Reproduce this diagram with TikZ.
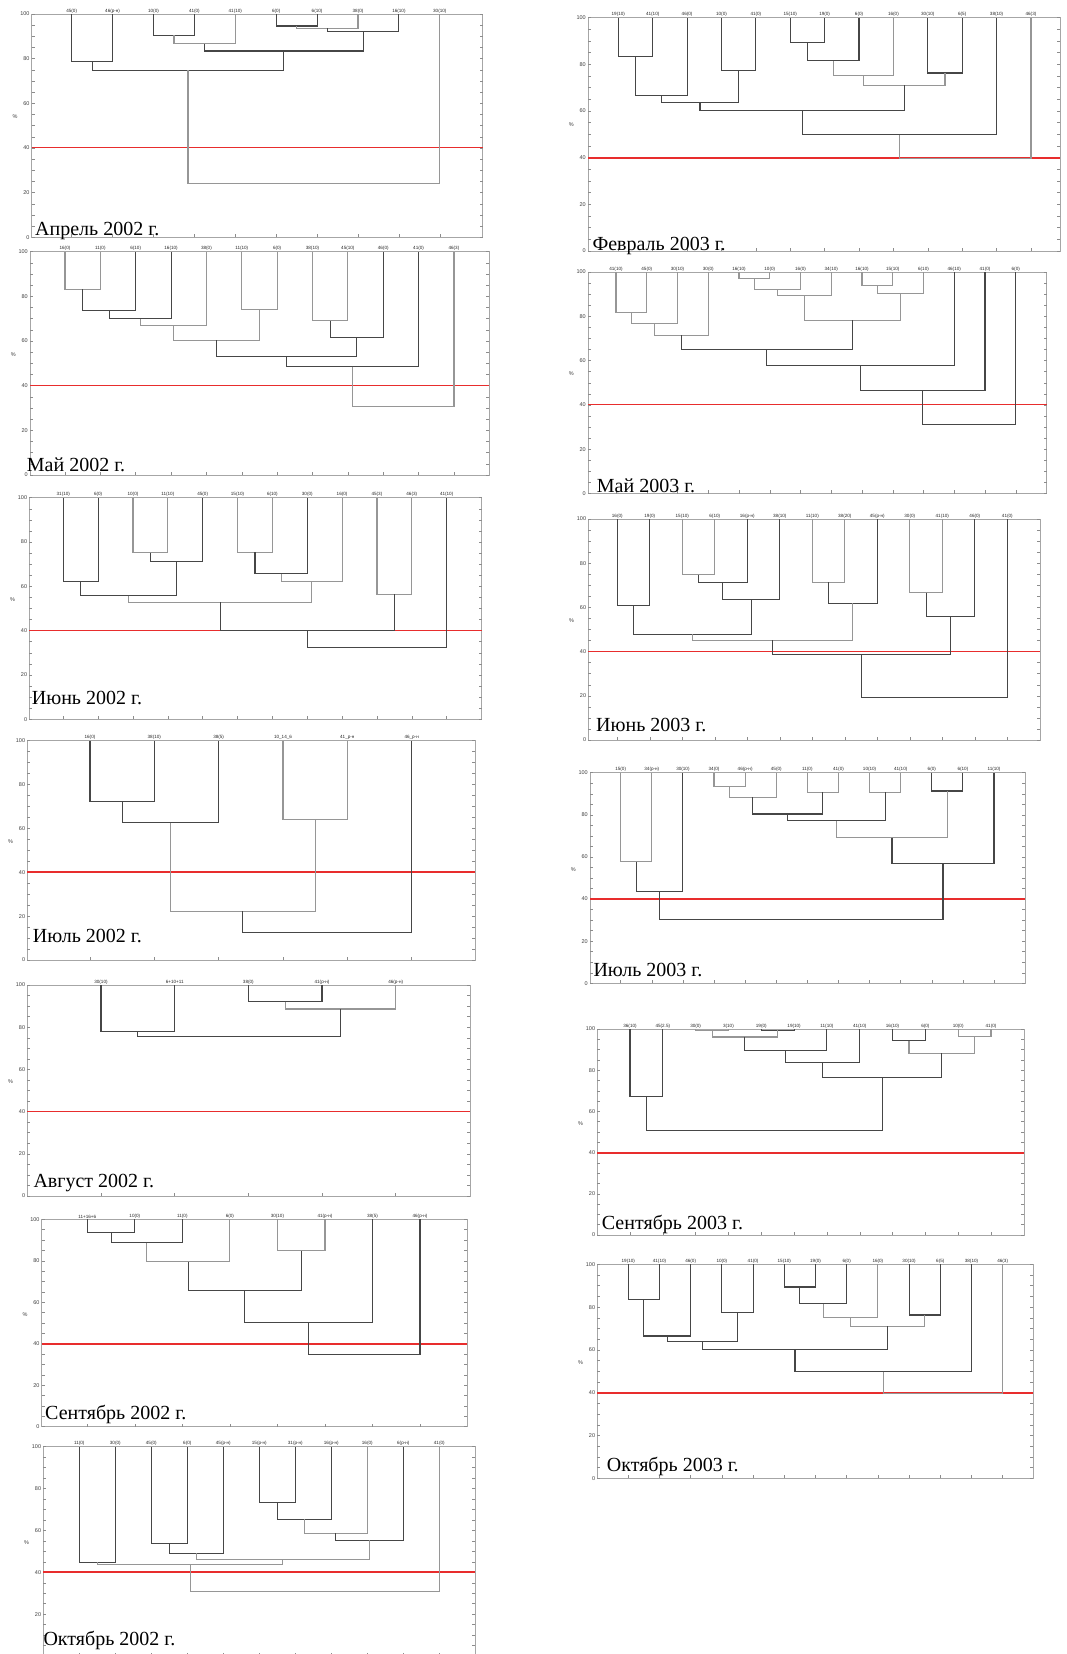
\documentclass[tikz,border=0pt]{standalone}
\usepackage{fontspec}
\setmainfont{Liberation Serif}
\newfontfamily\lsans{Liberation Sans}
\definecolor{dkc}{RGB}{70,70,70}
\definecolor{ltc}{RGB}{150,150,150}
\definecolor{rl}{RGB}{232,45,45}
\tikzset{
  dk/.style={draw=dkc, line width=1.1pt},
  lt/.style={draw=ltc, line width=1.1pt},
  boxl/.style={draw=black!35, line width=0.8pt},
  tk/.style={draw=black!45, line width=0.5pt},
  redl/.style={draw=rl},
  lbl/.style={font=\lsans\fontsize{4.6}{5}\selectfont, anchor=south, inner sep=0.8pt, text=black!85},
  tkl/.style={font=\lsans\fontsize{5.5}{6}\selectfont, anchor=east, inner sep=1pt, text=black!75},
  ttl/.style={font=\fontsize{20}{22}\selectfont, anchor=base west, inner sep=0pt}
}
% leaves: start x, step, list of labels
\newcommand\leaves[3]{%
  \foreach \t [count=\i] in {#3} {%
    \coordinate (L\i) at ({#1+(\i-1)*#2},100);
    \node[lbl] (T\i) at (L\i) {\t};
    \draw[tk] ({#1+(\i-1)*#2},0) -- ++(0,1.5);
  }}
% frame: [red width] X0 X1 {tick labels}
\newcommand\frm[4][1]{%
  \draw[boxl] (#2,0) rectangle (#3,100);
  \foreach \vv in {0,5,...,100} {\draw[tk] (#2,\vv) -- ++(3,0); \draw[tk] (#3,\vv) -- ++(-3,0);}
  \foreach \vv in {#4} {\node[tkl] (Y\vv) at (#2-1,\vv) {\vv};}
  \node[tkl] (pc) at (#2-13,54) {\%};
  \draw[redl, line width=#1pt] (#2,40) -- (#3,40);
}
% merge: [style] a b new height
\newcommand\mg[5][dk]{%
  \coordinate (hh) at (0,#5);
  \draw[#1] (#2) -- (#2 |- hh) -- coordinate[midway] (#4) (#3 |- hh) -- (#3);
}
\newcommand\febtree{%
  \mg{L1}{L2}{a}{83.4}
  \mg{a}{L3}{b}{66.5}
  \mg{L4}{L5}{c}{77.3}
  \mg{b}{c}{d}{63.8}
  \mg{L6}{L7}{e}{89.4}
  \mg{e}{L8}{f}{81.5}
  \mg[lt]{f}{L9}{g}{75.1}
  \mg{L10}{L11}{h}{76.3}
  \mg[lt]{g}{h}{i}{71.0}
  \mg{d}{i}{j}{60.1}
  \mg{j}{L12}{k}{49.8}
  \mg[lt]{k}{L13}{l}{39.6}
}
\begin{document}
\begin{tikzpicture}[x=1pt,y=-1pt]
\fill[white] (0,0) rectangle (1066,1654);
\useasboundingbox (0,0) rectangle (1066,1654);

% ---------- Апрель 2002
\begin{scope}[shift={(0,237.3)},yscale=-2.233]
  \frm[1]{31.7}{482.7}{0,20,...,100}
  \leaves{71.7}{40.9}{45(0),46(р-н),10(0),41(0),41(10),6(0),6(10),38(0),16(10),30(10)}
  \mg{L1}{L2}{a}{78.6}
  \mg{L3}{L4}{b}{90.5}
  \mg[lt]{b}{L5}{c}{86.6}
  \mg{L6}{L7}{d}{94.6}
  \mg[lt]{d}{L8}{e}{93.6}
  \mg{e}{L9}{f}{92.1}
  \mg{c}{f}{g}{83.4}
  \mg{a}{g}{h}{74.8}
  \mg[lt]{h}{L10}{i}{24.2}
\end{scope}

% ---------- Май 2002
\begin{scope}[shift={(0,475)},yscale=-2.233]
  \frm[1.5]{30}{489.3}{0,20,...,100}
  \leaves{65}{35.36}{16(0),11(0),6(10),16(10),38(0),11(10),6(0),38(10),45(10),46(0),41(0),46(3)}
  \mg[lt]{L1}{L2}{a}{83.1}
  \mg{a}{L3}{b}{73.7}
  \mg{b}{L4}{c}{69.9}
  \mg[lt]{c}{L5}{d}{66.9}
  \mg[lt]{L6}{L7}{e}{74.3}
  \mg[lt]{d}{e}{f}{60.4}
  \mg[lt]{L8}{L9}{g}{69.0}
  \mg{g}{L10}{h}{61.5}
  \mg{f}{h}{i}{53.0}
  \mg{i}{L11}{j}{48.5}
  \mg[lt]{j}{L12}{k}{30.6}
\end{scope}

% ---------- Июнь 2002
\begin{scope}[shift={(0,719.3)},yscale=-2.216]
  \frm[1.2]{29.3}{481.7}{0,20,...,100}
  \leaves{63.3}{34.85}{31(10),6(0),10(0),11(10),45(0),15(10),6(10),30(0),16(0),45(3),46(3),41(10)}
  \mg{L1}{L2}{a}{62.1}
  \mg[lt]{L3}{L4}{b}{75.2}
  \mg{b}{L5}{c}{71.4}
  \mg{a}{c}{d}{55.8}
  \mg[lt]{L6}{L7}{e}{75.3}
  \mg{e}{L8}{f}{65.6}
  \mg[lt]{f}{L9}{g}{62.1}
  \mg[lt]{d}{g}{h}{52.8}
  \mg[lt]{L10}{L11}{i}{56.4}
  \mg{h}{i}{j}{40.0}
  \mg{j}{L12}{k}{32.3}
\end{scope}

% ---------- Июль 2002
\begin{scope}[shift={(0,960)},yscale=-2.193]
  \frm[2]{27.3}{475}{0,20,...,100}
  \leaves{90}{64.33}{16(0),38(10),38(5),10\_14\_6,41\_р-н,46\_р-н}
  \mg{L1}{L2}{a}{72.2}
  \mg{a}{L3}{b}{62.6}
  \mg[lt]{L4}{L5}{c}{64.1}
  \mg[lt]{b}{c}{d}{22.3}
  \mg{d}{L6}{e}{12.5}
\end{scope}

% ---------- Август 2002
\begin{scope}[shift={(0,1196)},yscale=-2.11]
  \frm[1]{27.3}{470}{0,20,...,100}
  \leaves{101}{73.67}{30(10),6+10+11,38(0),41(р-н),46(р-н)}
  \mg{L1}{L2}{a}{77.9}
  \mg{L3}{L4}{b}{92.1}
  \mg[lt]{b}{L5}{c}{88.6}
  \mg{a}{c}{d}{75.8}
\end{scope}

% ---------- Сентябрь 2002
\begin{scope}[shift={(0,1426.7)},yscale=-2.074]
  \frm[2]{41.7}{467.3}{0,20,...,100}
  \leaves{87.3}{47.53}{11+16+6,10(0),11(0),6(0),30(10),41(р-н),38(5),46(р-н)}
  \mg{L1}{L2}{a}{93.7}
  \mg{a}{L3}{b}{88.7}
  \mg[lt]{b}{L4}{c}{79.6}
  \mg[lt]{L5}{L6}{d}{84.9}
  \mg{c}{d}{e}{65.6}
  \mg{e}{L7}{f}{50.2}
  \mg{f}{L8}{g}{34.6}
\end{scope}

% ---------- Октябрь 2002
\begin{scope}[shift={(0,1656)},yscale=-2.093]
  \frm[2]{43.3}{475}{20,40,...,100}
  \leaves{79.3}{36}{11(0),30(0),45(0),6(0),45(р-н),15(р-н),31(р-н),16(р-н),16(0),6(р-н),41(0)}
  \mg{L1}{L2}{a}{44.7}
  \mg{L3}{L4}{b}{53.8}
  \mg{b}{L5}{c}{49.0}
  \mg{L6}{L7}{d}{73.2}
  \mg{d}{L8}{e}{65.4}
  \mg[lt]{e}{L9}{f}{58.6}
  \mg{f}{L10}{g}{55.4}
  \mg[lt]{c}{g}{h}{45.9}
  \mg[lt]{a}{h}{i}{43.8}
  \mg[lt]{i}{L11}{j}{30.7}
\end{scope}

% ---------- Февраль 2003
\begin{scope}[shift={(0,251)},yscale=-2.333]
  \frm[2.2]{588}{1060}{0,20,...,100}
  \leaves{618.3}{34.39}{19(10),41(10),46(0),10(0),41(0),15(10),19(0),6(0),16(0),30(10),6(5),38(10),46(3)}
  \febtree
\end{scope}

% ---------- Май 2003
\begin{scope}[shift={(0,493.5)},yscale=-2.215]
  \frm[1]{588}{1046.7}{0,20,...,100}
  \leaves{616}{30.75}{41(10),45(0),30(10),30(0),16(10),10(0),16(0),34(10),16(10),15(10),6(10),46(10),41(0),6(0)}
  \mg[lt]{L1}{L2}{a}{81.6}
  \mg[lt]{a}{L3}{b}{76.7}
  \mg[lt]{b}{L4}{c}{71.4}
  \mg[lt]{L5}{L6}{d}{97.0}
  \mg[lt]{d}{L7}{e}{92.0}
  \mg[lt]{e}{L8}{f}{89.2}
  \mg[lt]{L9}{L10}{g}{94.0}
  \mg[lt]{g}{L11}{h}{90.2}
  \mg[lt]{f}{h}{i}{78.2}
  \mg{c}{i}{j}{64.9}
  \mg{j}{L12}{k}{57.9}
  \mg{k}{L13}{l}{46.6}
  \mg{l}{L14}{m}{31.2}
\end{scope}

% ---------- Июнь 2003
\begin{scope}[shift={(0,740)},yscale=-2.21]
  \frm[1]{588.3}{1040}{0,20,...,100}
  \leaves{617.3}{32.5}{16(0),19(0),15(10),6(10),16(р-н),38(10),11(10),38(20),45(р-н),30(0),41(10),46(0),41(0)}
  \mg{L1}{L2}{a}{60.8}
  \mg[lt]{L3}{L4}{b}{74.8}
  \mg{b}{L5}{c}{71.3}
  \mg{c}{L6}{d}{63.7}
  \mg{a}{d}{e}{47.8}
  \mg[lt]{L7}{L8}{f}{71.3}
  \mg{f}{L9}{g}{61.8}
  \mg[lt]{e}{g}{h}{45.2}
  \mg[lt]{L10}{L11}{i}{66.7}
  \mg{i}{L12}{j}{55.8}
  \mg{h}{j}{k}{38.5}
  \mg{k}{L13}{l}{19.2}
\end{scope}

% ---------- Июль 2003
\begin{scope}[shift={(0,983.3)},yscale=-2.106]
  \frm[1.6]{590}{1025}{0,20,...,100}
  \leaves{620.7}{31.11}{15(0),34(р-н),30(10),34(0),46(р-н),45(0),11(0),41(0),10(10),41(10),6(0),6(10),11(10)}
  \mg[lt]{L1}{L2}{a}{57.8}
  \mg{a}{L3}{b}{43.8}
  \mg[lt]{L4}{L5}{c}{93.4}
  \mg[lt]{c}{L6}{d}{88.3}
  \mg[lt]{L7}{L8}{e}{90.7}
  \mg{d}{e}{f}{80.4}
  \mg[lt]{L9}{L10}{g}{90.7}
  \mg{f}{g}{h}{77.2}
  \mg{L11}{L12}{i}{91.3}
  \mg[lt]{h}{i}{j}{69.1}
  \mg{j}{L13}{k}{57.0}
  \mg{b}{k}{l}{30.1}
\end{scope}

% ---------- Сентябрь 2003
\begin{scope}[shift={(0,1235)},yscale=-2.06]
  \frm[2]{597.3}{1024}{0,20,...,100}
  \leaves{630}{32.82}{36(10),45(2.5),30(0),3(10),19(0),19(10),11(10),41(10),16(10),6(0),10(0),41(0)}
  \mg{L1}{L2}{a}{67.2}
  \mg[lt]{L3}{L4}{b}{99.3}
  \mg{L5}{L6}{c}{99.3}
  \mg[lt]{b}{c}{d}{96.1}
  \mg{d}{L7}{e}{89.5}
  \mg{e}{L8}{f}{83.7}
  \mg{L9}{L10}{g}{94.2}
  \mg[lt]{L11}{L12}{h}{96.3}
  \mg[lt]{g}{h}{i}{88.2}
  \mg{f}{i}{j}{76.4}
  \mg{a}{j}{k}{50.6}
\end{scope}

% ---------- Октябрь 2003
\begin{scope}[shift={(0,1478.3)},yscale=-2.14]
  \frm[2]{597.3}{1033}{0,20,...,100}
  \leaves{628.3}{31.2}{19(10),41(10),46(0),10(0),41(0),15(10),19(0),6(0),16(0),30(10),6(5),38(10),46(3)}
  \febtree
\end{scope}

% ---------- titles
\node[ttl] (t1) at (35,235.7) {Апрель 2002 г.};
\node[ttl] (t2) at (26.7,471) {Май 2002 г.};
\node[ttl] (t3) at (31.7,704.3) {Июнь 2002 г.};
\node[ttl] (t4) at (32.7,942.7) {Июль 2002 г.};
\node[ttl] (t5) at (33.3,1187.3) {Август 2002 г.};
\node[ttl] (t6) at (45,1419.3) {Сентябрь 2002 г.};
\node[ttl] (t7) at (43.3,1645) {Октябрь 2002 г.};
\node[ttl] (t8) at (592.3,250) {Февраль 2003 г.};
\node[ttl] (t9) at (596.7,492) {Май 2003 г.};
\node[ttl] (t10) at (596,731) {Июнь 2003 г.};
\node[ttl] (t11) at (593.3,976.7) {Июль 2003 г.};
\node[ttl] (t12) at (601.7,1229) {Сентябрь 2003 г.};
\node[ttl] (t13) at (606.7,1471) {Октябрь 2003 г.};
\end{tikzpicture}
\end{document}
